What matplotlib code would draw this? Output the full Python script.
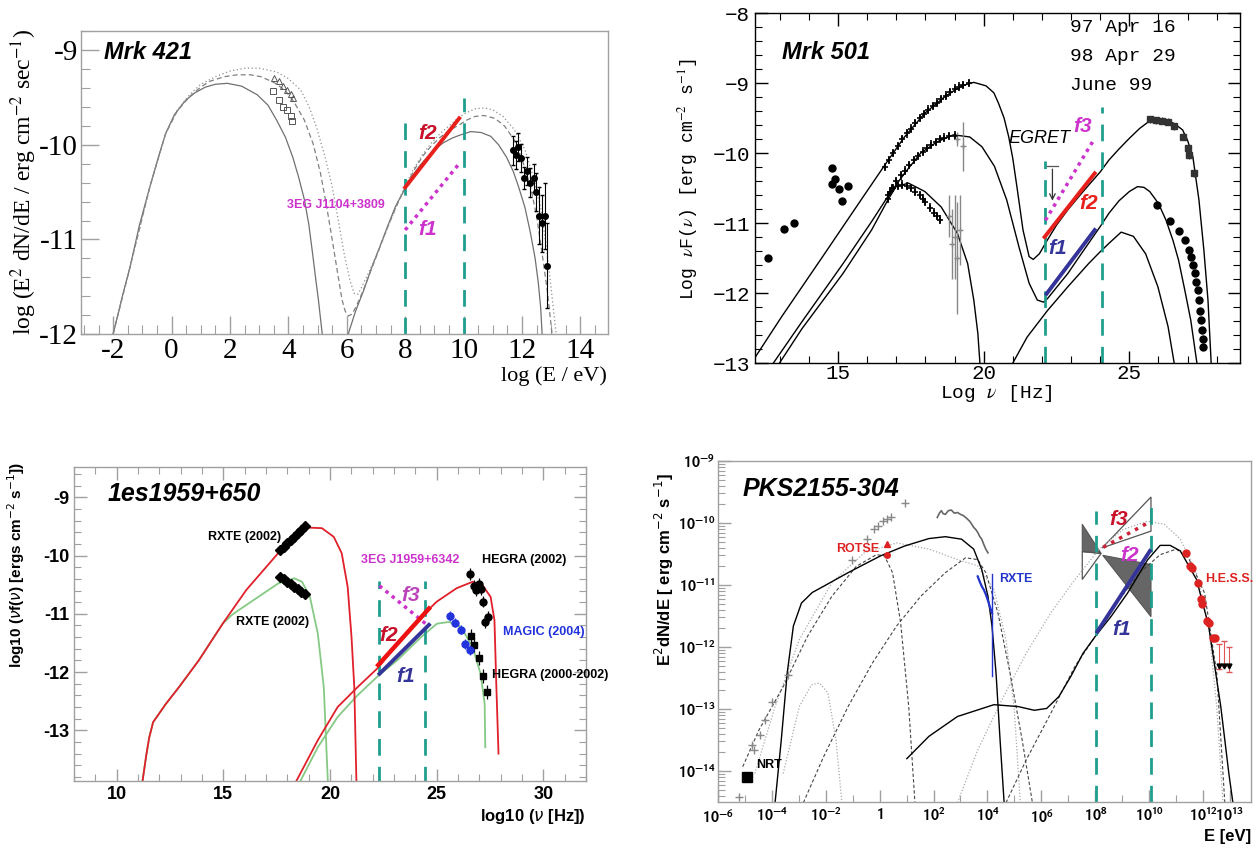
import numpy as np
import matplotlib
matplotlib.use("Agg")
import matplotlib.pyplot as plt
from matplotlib.ticker import MultipleLocator, FixedLocator, FixedFormatter, NullFormatter
from matplotlib.patches import Polygon

plt.rcParams['mathtext.fontset'] = 'stix'
plt.rcParams['axes.unicode_minus'] = False

TEAL = '#1f9e8e'
RED = '#e8201c'
DRED = '#c8102a'
MAG = '#cc33cc'
NAVY = '#34349a'
GREEN = '#85c985'

# ---------------- Mrk 421 (log E [eV], log E^2 dN/dE) ----------------
m421_sync_x = [-2.0, -1.7, -1.42, -1.1, -0.74, -0.45, -0.2, 0.1, 0.48, 0.8, 1.16, 1.5, 1.91, 2.4, 2.93, 3.3,
               3.6, 3.9, 4.15, 4.35, 4.55, 4.7, 4.83, 4.95, 5.03, 5.16]
m421_sync_y = [-12.0, -11.62, -11.29, -10.85, -10.44, -10.13, -9.88, -9.68, -9.53, -9.45, -9.39, -9.36, -9.35, -9.38, -9.47, -9.58,
               -9.74, -9.92, -10.13, -10.34, -10.58, -10.84, -11.15, -11.45, -11.64, -12.0]
m421_ic_x = [6.05, 6.3, 6.59, 6.85, 7.13, 7.4, 7.67, 7.95, 8.22, 8.5, 8.76, 9.05, 9.30, 9.6, 9.85, 10.25, 10.6, 10.93,
             11.2, 11.47, 11.7, 11.88, 12.1, 12.29, 12.45, 12.56, 12.64, 12.69]
m421_ic_y = [-12.0, -11.76, -11.53, -11.30, -11.08, -10.86, -10.65, -10.49, -10.34, -10.22, -10.13, -10.04, -9.98, -9.93, -9.90, -9.86, -9.87, -9.91,
             -10.0, -10.13, -10.28, -10.44, -10.66, -10.93, -11.2, -11.46, -11.72, -12.0]
m421_dash_x = [-2.0, -1.42, -0.74, -0.20, 0.2, 0.62, 1.0, 1.30, 1.8, 2.25, 2.7, 3.06, 3.5, 3.88, 4.2, 4.55, 4.85, 5.10, 5.30, 5.50, 5.70,
               5.84, 5.95, 6.05, 6.18, 6.32, 6.55, 6.80, 7.10, 7.40, 7.70, 8.0, 8.30, 8.60, 8.90, 9.20, 9.50, 9.85, 10.1, 10.39,
               10.7, 11.07, 11.4, 11.74, 12.0, 12.29, 12.5, 12.69, 12.87, 13.03]
m421_dash_y = [-12.0, -11.29, -10.44, -9.88, -9.64, -9.49, -9.39, -9.33, -9.28, -9.26, -9.26, -9.28, -9.34, -9.42, -9.55, -9.74, -9.99, -10.30, -10.63, -11.00, -11.38,
               -11.64, -11.76, -11.81, -11.79, -11.71, -11.55, -11.35, -11.11, -10.87, -10.65, -10.45, -10.27, -10.12, -10.01, -9.92, -9.85, -9.79, -9.74, -9.70,
               -9.69, -9.72, -9.80, -9.95, -10.15, -10.44, -10.75, -11.15, -11.55, -12.0]
m421_dot_x = [-2.0, -1.42, -0.74, -0.20, 0.2, 0.62, 1.0, 1.50, 2.0, 2.52, 3.0, 3.60, 4.0, 4.42, 4.7, 4.96, 5.25, 5.50, 5.70, 5.91, 6.1,
              6.25, 6.38, 6.52, 6.75, 7.0, 7.25, 7.5, 7.75, 8.0, 8.3, 8.6, 8.9, 9.2, 9.5, 9.8, 10.1, 10.39, 10.7, 11.0, 11.35,
              11.74, 12.1, 12.42, 12.65, 12.83, 13.0, 13.17]
m421_dot_y = [-12.0, -11.29, -10.44, -9.88, -9.63, -9.47, -9.36, -9.28, -9.22, -9.19, -9.19, -9.23, -9.30, -9.42, -9.59, -9.81, -10.12, -10.44, -10.78, -11.15, -11.42,
              -11.57, -11.58, -11.50, -11.35, -11.18, -10.99, -10.80, -10.61, -10.43, -10.25, -10.10, -9.98, -9.88, -9.80, -9.72, -9.66, -9.62, -9.61, -9.63, -9.70,
              -9.84, -10.05, -10.37, -10.68, -11.07, -11.52, -12.0]
m421_tri_x = [3.51, 3.67, 3.81, 3.94, 4.08, 4.17]
m421_tri_y = [-9.29, -9.33, -9.38, -9.42, -9.46, -9.51]
m421_sq_x = [3.47, 3.67, 3.81, 3.97, 4.08, 4.12]
m421_sq_y = [-9.43, -9.53, -9.60, -9.63, -9.70, -9.75]
m421_tev_x = [11.68, 11.79, 11.88, 11.98, 12.08, 12.17, 12.29, 12.40, 12.49, 12.58, 12.69, 12.80, 12.87]
m421_tev_y = [-10.06, -10.11, -10.02, -10.14, -10.35, -10.28, -10.40, -10.35, -10.50, -10.75, -10.83, -10.75, -11.28]
m421_tev_err = [0.15, 0.15, 0.15, 0.15, 0.12, 0.15, 0.15, 0.15, 0.2, 0.3, 0.3, 0.35, 0.45]
m421_vlines = [8.0, 10.0]
m421_vtops = [-9.77, -9.51]
m421_f2 = ([8.0, 9.85], [-10.45, -9.72])
m421_f1 = ([8.0, 9.9], [-10.90, -10.18])

# ---------------- Mrk 501 (log nu [Hz]) ----------------
m501_a_x = [12.12, 13.06, 14.47, 15.87, 16.64, 17.28, 17.98, 18.68, 19.24, 19.66, 20.08, 20.35, 20.51, 20.70, 20.86, 21.0, 21.14, 21.35,
            21.56, 21.70, 21.91, 22.19, 22.5, 22.89, 23.25, 23.60, 24.0, 24.30, 24.65, 25.0, 25.35, 25.70, 26.0, 26.26, 26.55, 26.83, 27.0, 27.18, 27.39, 27.56, 27.70, 27.81]
m501_a_y = [-12.94, -12.34, -11.48, -10.62, -10.15, -9.77, -9.43, -9.19, -9.04, -8.99, -9.04, -9.14, -9.29, -9.50, -9.77, -10.08, -10.48, -11.10,
            -11.48, -11.52, -11.44, -11.24, -11.03, -10.81, -10.63, -10.46, -10.27, -10.10, -9.94, -9.79, -9.65, -9.54, -9.51, -9.53, -9.58, -9.67, -9.82, -10.05, -10.67, -11.39, -12.10, -13.0]
m501_b_x = [12.78, 13.76, 15.17, 16.15, 16.71, 17.28, 17.84, 18.40, 18.96, 19.52, 19.94, 20.37, 20.79, 21.21, 21.56,
            21.84, 22.05, 22.19, 22.5, 22.89, 23.25, 23.60, 24.0, 24.30, 24.65, 25.0, 25.28, 25.50, 25.70, 26.0, 26.26, 26.5, 26.69, 26.9, 27.11, 27.32]
m501_b_y = [-13.0, -12.41, -11.58, -10.98, -10.62, -10.29, -10.00, -9.84, -9.74, -9.77, -9.91, -10.19, -10.67, -11.34, -11.86,
            -12.10, -12.13, -12.08, -11.92, -11.72, -11.50, -11.29, -11.05, -10.86, -10.68, -10.55, -10.48, -10.49, -10.55, -10.72, -10.96, -11.25, -11.53, -11.95, -12.39, -13.0]
m501_c_x = [12.99, 13.76, 15.17, 16.15, 16.71, 16.99, 17.42, 17.98, 18.54, 19.10, 19.45, 19.66, 19.80, 19.87]
m501_c_y = [-13.0, -12.51, -11.72, -11.10, -10.67, -10.48, -10.43, -10.55, -10.77, -11.15, -11.58, -12.10, -12.58, -13.0]
m501_cic_x = [21.0, 21.49, 22.19, 22.89, 23.60, 24.0, 24.30, 24.72, 25.14, 25.56, 25.98, 26.33, 26.54]
m501_cic_y = [-13.0, -12.63, -12.25, -11.91, -11.58, -11.41, -11.29, -11.13, -11.19, -11.44, -11.91, -12.48, -13.0]
m501_xa_x = [16.6, 16.75, 16.9, 17.05, 17.2, 17.35, 17.5, 17.65, 17.8, 17.95, 18.1, 18.25, 18.4, 18.55, 18.7, 18.85, 19.0, 19.15, 19.3, 19.5]
m501_xa_y = [-10.2, -10.1, -10.0, -9.9, -9.8, -9.72, -9.65, -9.57, -9.5, -9.44, -9.38, -9.33, -9.28, -9.23, -9.18, -9.13, -9.08, -9.05, -9.03, -9.0]
m501_xb_x = [16.7, 16.85, 17.0, 17.15, 17.3, 17.45, 17.6, 17.75, 17.9, 18.05, 18.2, 18.35, 18.5, 18.65, 18.8, 19.0]
m501_xb_y = [-10.6, -10.5, -10.4, -10.32, -10.25, -10.17, -10.1, -10.04, -9.98, -9.93, -9.88, -9.84, -9.8, -9.78, -9.76, -9.75]
m501_xc_x = [16.7, 16.8, 16.9, 17.05, 17.2, 17.35, 17.5, 17.65, 17.8, 17.9, 18.0, 18.15, 18.3, 18.4, 18.5]
m501_xc_y = [-10.65, -10.56, -10.5, -10.47, -10.45, -10.47, -10.5, -10.55, -10.6, -10.65, -10.7, -10.78, -10.85, -10.9, -10.95]
m501_gray_x = [18.8, 18.9, 19.0, 19.1, 19.2, 19.1, 19.3]
m501_gray_y = [-10.9, -11.3, -11.2, -11.5, -11.1, -9.8, -9.9]
m501_gray_err = [0.3, 0.5, 0.6, 0.8, 0.5, 0.1, 0.35]
m501_opt_x = [12.61, 13.16, 13.50, 14.79, 14.78, 14.90, 15.03, 15.14, 15.35]
m501_opt_y = [-11.50, -11.09, -11.00, -10.21, -10.44, -10.37, -10.51, -10.69, -10.47]
m501_tev_x = [25.96, 26.40, 26.69, 26.90, 27.04, 27.11, 27.18, 27.25, 27.29, 27.35, 27.39, 27.44, 27.46, 27.49, 27.52, 27.53]
m501_tev_y = [-10.74, -10.97, -11.12, -11.24, -11.38, -11.49, -11.60, -11.72, -11.84, -11.96, -12.10, -12.25, -12.39, -12.53, -12.65, -12.77]
m501_hegra_x = [25.70, 25.91, 26.12, 26.33, 26.54, 26.83, 27.01, 27.04, 27.22]
m501_hegra_y = [-9.52, -9.53, -9.54, -9.55, -9.62, -9.77, -9.93, -10.03, -10.29]
m501_vlines = [22.09, 24.06]
m501_vtops = [-10.12, -9.34]
m501_f3 = ([22.12, 23.81], [-10.96, -9.79])
m501_f2 = ([22.09, 23.81], [-11.20, -10.29])
m501_f1 = ([22.16, 23.81], [-12.01, -11.10])
m501_dates = ['97 Apr 16', '98 Apr 29', 'June 99']

# ---------------- 1es1959+650 ----------------
es_sync_x = [11.21, 11.40, 11.53, 11.71, 12.3, 12.92, 13.85, 14.97, 16.08, 17.57, 18.32, 18.97, 19.62, 20.18, 20.55, 20.83, 21.01, 21.14, 21.24]
es_sync_y = [-13.88, -13.40, -13.12, -12.86, -12.55, -12.26, -11.80, -11.17, -10.59, -9.96, -9.65, -9.52, -9.53, -9.68, -9.96, -10.54, -11.40, -12.26, -13.88]
es_gsync_x = [11.21, 11.40, 11.53, 11.71, 12.3, 12.92, 13.85, 14.97, 15.4, 15.71, 16.64, 17.57, 18.32, 18.69, 19.06, 19.43, 19.71, 19.90]
es_gsync_y = [-13.88, -13.40, -13.12, -12.86, -12.55, -12.26, -11.80, -11.17, -11.02, -10.94, -10.71, -10.48, -10.39, -10.45, -10.71, -11.34, -12.26, -13.88]
es_ic_x = [18.41, 19.43, 20.36, 21.29, 22.30, 23.15, 24.27, 25.01, 25.94, 26.69, 27.15, 27.53, 27.71, 27.80, 27.90]
es_ic_y = [-13.88, -13.17, -12.60, -12.26, -11.91, -11.51, -11.05, -10.79, -10.56, -10.45, -10.51, -10.71, -11.11, -12.26, -13.40]
es_gic_x = [18.60, 19.43, 20.36, 21.29, 22.30, 23.15, 24.27, 25.01, 25.57, 26.13, 26.69, 27.06, 27.25, 27.28]
es_gic_y = [-13.88, -13.29, -12.77, -12.40, -12.05, -11.80, -11.40, -11.17, -11.14, -11.22, -11.57, -12.03, -12.54, -13.29]
es_rx1_x = [17.67, 17.83, 17.98, 18.15, 18.32, 18.48, 18.65, 18.82]
es_rx1_y = [-9.91, -9.85, -9.79, -9.73, -9.68, -9.62, -9.56, -9.50]
es_rx2_x = [17.67, 17.83, 17.98, 18.15, 18.32, 18.48, 18.65, 18.82]
es_rx2_y = [-10.36, -10.41, -10.45, -10.49, -10.54, -10.58, -10.62, -10.66]
es_h02_x = [26.58, 26.73, 26.84, 26.97, 27.06, 27.19, 27.28, 27.40]
es_h02_y = [-10.32, -10.52, -10.59, -10.48, -10.58, -10.79, -11.14, -11.05]
es_h00_x = [26.60, 26.74, 26.97, 27.15, 27.34]
es_h00_y = [-11.38, -11.54, -11.76, -12.07, -12.34]
es_magic_x = [25.63, 25.85, 26.13, 26.35, 26.56]
es_magic_y = [-11.04, -11.15, -11.27, -11.52, -11.62]
es_vlines = [22.28, 24.44]
es_vtop = -10.44
es_f3 = ([22.32, 24.55], [-10.52, -11.19])
es_f2 = ([22.26, 24.64], [-11.88, -10.91])
es_f1 = ([22.32, 24.64], [-12.03, -11.19])

# ---------------- PKS2155-304 (log10 E [eV], log10 E^2dN/dE) ----------------
pks_sync_lx = [-3.88, -3.65, -3.43, -3.20, -2.90, -2.5, -2.08, -1.17, 0.03, 0.93, 1.83, 2.44, 3.04, 3.49, 3.79, 4.02, 4.17, 4.32, 4.47, 4.62]
pks_sync_ly = [-14.51, -13.50, -12.42, -11.66, -11.29, -11.12, -11.02, -10.80, -10.53, -10.37, -10.25, -10.22, -10.26, -10.42, -10.75, -11.18, -11.66, -12.42, -13.50, -14.51]
pks_ic_lx = [1.01, 1.83, 2.89, 4.24, 5.14, 5.74, 6.20, 6.65, 7.10, 7.55, 8.0, 8.6, 9.2, 9.95, 10.41, 10.78, 11.16, 11.76, 12.21, 12.66, 12.96, 13.11]
pks_ic_ly = [-13.80, -13.44, -13.12, -12.93, -12.96, -13.02, -12.99, -12.80, -12.47, -12.10, -11.83, -11.50, -11.13, -10.59, -10.36, -10.36, -10.45, -10.91, -11.66, -12.96, -14.04, -14.51]
pks_d1_lx = [-5.08, -4.48, -3.58, -2.68, -1.77, -0.87, -0.12, 0.18, 0.48, 0.78, 1.08, 1.31]
pks_d1_ly = [-13.93, -13.34, -12.64, -11.83, -11.18, -10.70, -10.51, -10.53, -10.80, -11.61, -12.96, -14.51]
pks_d2_lx = [-2.83, -2.08, -1.17, -0.27, 0.63, 1.53, 2.44, 3.19, 3.64, 3.94, 4.39, 4.84, 5.29, 5.67]
pks_d2_ly = [-14.51, -13.77, -12.96, -12.26, -11.66, -11.18, -10.80, -10.56, -10.59, -10.80, -11.45, -12.42, -13.50, -14.51]
pks_d3_lx = [4.69, 5.44, 6.35, 7.25, 8.0, 8.90, 9.65, 10.41, 11.01, 11.46, 12.06, 12.51, 12.81]
pks_d3_ly = [-14.51, -13.82, -13.07, -12.31, -11.83, -11.23, -10.80, -10.51, -10.42, -10.56, -11.13, -12.42, -14.51]
pks_o1_lx = [-3.58, -2.98, -2.53, -2.23, -1.92, -1.62, -1.40]
pks_o1_ly = [-14.04, -12.96, -12.61, -12.58, -12.74, -13.50, -14.51]
pks_o2_lx = [-4.63, -3.88, -2.98, -1.77, -0.57, 0.63, 1.83, 2.89, 3.64, 4.24, 4.69, 4.99, 5.22]
pks_o2_ly = [-14.04, -12.96, -11.88, -10.96, -10.48, -10.32, -10.42, -10.59, -10.69, -11.07, -11.88, -12.96, -14.51]
pks_o3_lx = [2.89, 3.64, 4.54, 5.44, 6.35, 7.25, 8.15, 9.05, 9.95, 10.56, 11.16, 11.76, 12.21, 12.51, 12.74]
pks_o3_ly = [-14.51, -13.66, -12.85, -12.10, -11.45, -10.91, -10.42, -10.10, -9.97, -10.02, -10.26, -10.80, -11.66, -12.96, -14.51]
pks_opt_lx = [-5.23, -4.75, -4.66, -4.45, -4.26, -4.0, -3.40, -1.02, -0.45, -0.20, -0.05, 0.11, 0.26, 0.41, 0.93]
pks_opt_ly = [-14.42, -13.58, -13.66, -13.42, -13.17, -12.88, -12.45, -10.59, -10.25, -10.09, -10.05, -9.97, -9.93, -9.90, -9.67]
pks_xs_lx = [2.14, 2.22, 2.29, 2.36, 2.44, 2.55, 2.66, 2.77, 2.89, 3.0, 3.11, 3.22, 3.34, 3.42, 3.49, 3.56, 3.64, 3.72, 3.79, 3.87, 3.94, 4.02]
pks_xs_ly = [-9.91, -9.84, -9.80, -9.85, -9.86, -9.80, -9.79, -9.84, -9.83, -9.86, -9.88, -9.92, -9.97, -10.02, -10.07, -10.10, -10.15, -10.22, -10.26, -10.35, -10.42, -10.48]
pks_rxte_lx = [3.64, 3.72, 3.79, 3.87, 3.94, 4.02, 4.09, 4.17]
pks_rxte_ly = [-10.86, -10.95, -11.02, -11.08, -11.15, -11.25, -11.35, -11.45]
pks_hess_lx = [11.38, 11.53, 11.61, 11.83, 11.91, 11.98, 12.14, 12.21, 12.36, 12.44]
pks_hess_ly = [-10.48, -10.69, -10.72, -10.96, -11.23, -11.31, -11.58, -11.61, -11.85, -11.85]
pks_ul_lx = [12.59, 12.78, 12.96]
pks_ul_ly = [-12.31, -12.31, -12.31]
pks_ul_bar = [-12.15, -12.1, -12.2]
pks_vlines = [8.04, 10.06]
pks_vtops = [-9.81, -9.58]
pks_f1 = ([8.08, 10.03], [-11.75, -10.45])
pks_f3 = ([8.30, 10.07], [-10.39, -9.97])
pks_bow_dark = [[(7.52, -10.02), (7.52, -10.46), (8.22, -10.49)], [(8.28, -10.52), (10.07, -10.67), (10.07, -11.51)]]
pks_bow_open = [[(7.52, -10.46), (7.52, -10.91), (8.22, -10.49)], [(8.26, -10.40), (10.07, -9.58), (10.07, -10.13)]]
pks_xticks = [-6, -4, -2, 0, 2, 4, 6, 8, 10, 12, 13]
pks_xlabels = [r'$\mathbf{10^{-6}}$', r'$\mathbf{10^{-4}}$', r'$\mathbf{10^{-2}}$', r'$\mathbf{1}$', r'$\mathbf{10^{2}}$',
               r'$\mathbf{10^{4}}$', r'$\mathbf{10^{6}}$', r'$\mathbf{10^{8}}$', r'$\mathbf{10^{10}}$',
               r'$\mathbf{10^{12}}$', r'$\mathbf{10^{13}}$']
pks_yticks = [-14, -13, -12, -11, -10, -9]
pks_ylabels = [r'$\mathbf{10^{-14}}$', r'$\mathbf{10^{-13}}$', r'$\mathbf{10^{-12}}$', r'$\mathbf{10^{-11}}$',
               r'$\mathbf{10^{-10}}$', r'$\mathbf{10^{-9}}$']


fig = plt.figure(figsize=(12.58, 8.48), dpi=100)


def style(ax, color, allsides, major, minor, width=1.0):
    for s in ax.spines.values():
        s.set_color(color)
        s.set_linewidth(width)
    ax.tick_params(which='both', direction='in', color=color, labelcolor='black',
                   top=allsides, right=allsides)
    ax.tick_params(which='major', length=major, width=width)
    ax.tick_params(which='minor', length=minor, width=width * 0.8)


def ftext(ax, x, y, s, color, size=15):
    ax.text(x, y, s, color=color, fontsize=size, fontweight='bold', style='italic',
            ha='center', va='center', family='Liberation Sans')


# ===== panel 1 =====
ax1 = fig.add_axes([0.0644, 0.6061, 0.419, 0.357])
ax1.plot(m421_sync_x, m421_sync_y, color='#707070', lw=0.9)
ax1.plot(m421_ic_x, m421_ic_y, color='#707070', lw=0.9)
ax1.plot(m421_dash_x, m421_dash_y, color='#808080', lw=0.9, ls=(0, (4, 2.5)))
ax1.plot(m421_dot_x, m421_dot_y, color='#909090', lw=0.9, ls=(0, (1, 2)))
ax1.plot(m421_tri_x, m421_tri_y, '^', mfc='none', mec='#555555', ms=5, mew=0.7)
ax1.plot(m421_sq_x, m421_sq_y, 's', mfc='none', mec='#555555', ms=5, mew=0.7)
ax1.errorbar(m421_tev_x, m421_tev_y, yerr=m421_tev_err, fmt='o', color='black', ms=4, elinewidth=0.8, capsize=1.5)
for xv, yt in zip(m421_vlines, m421_vtops):
    ax1.plot([xv, xv], [-12, yt], color=TEAL, lw=2, ls=(0, (6, 4)))
ax1.plot(*m421_f2, color=RED, lw=2.8)
ax1.plot(*m421_f1, color=MAG, lw=2.5, ls=(0, (1, 1.3)))
ftext(ax1, 8.76, -9.88, 'f2', DRED)
ftext(ax1, 8.76, -10.90, 'f1', MAG)
ax1.text(5.64, -10.64, '3EG J1104+3809', color=MAG, fontsize=9, fontweight='bold', ha='center', va='center', family='Liberation Sans')
ax1.text(-2.3, -9.02, 'Mrk 421', fontsize=17, fontweight='bold', style='italic', ha='left', va='center', family='Liberation Sans')
ax1.set_xlim(-3.1, 14.95)
ax1.set_ylim(-12, -8.8)
ax1.xaxis.set_major_locator(MultipleLocator(2))
ax1.xaxis.set_minor_locator(MultipleLocator(0.5))
ax1.yaxis.set_major_locator(MultipleLocator(1))
ax1.yaxis.set_minor_locator(MultipleLocator(0.2))
style(ax1, '#a0a0a0', False, 13, 6.5)
ax1.tick_params(axis='x', pad=3)
ax1.tick_params(axis='y', pad=2)
for lab in ax1.get_xticklabels() + ax1.get_yticklabels():
    lab.set_family('Liberation Serif')
    lab.set_fontsize(21)
fig.text(0.019, 0.785, r'log (E$^2$ dN/dE / erg cm$^{-2}$ sec$^{-1}$)', rotation=90, ha='center', va='center',
         fontsize=17, family='Liberation Serif')
fig.text(607 / 1258, 1 - 376 / 848, 'log (E / eV)', ha='right', va='center', fontsize=16, family='Liberation Serif')

# ===== panel 2 =====
ax2 = fig.add_axes([0.6002, 0.5719, 0.3855, 0.4127])
for xs, ys in [(m501_a_x, m501_a_y), (m501_b_x, m501_b_y), (m501_c_x, m501_c_y), (m501_cic_x, m501_cic_y)]:
    ax2.plot(xs, ys, color='black', lw=1.0)
for xs, ys in [(m501_xa_x, m501_xa_y), (m501_xb_x, m501_xb_y), (m501_xc_x, m501_xc_y)]:
    ax2.errorbar(xs, ys, yerr=0.06, fmt='+', color='black', ms=4, elinewidth=1.2, mew=1.2)
ax2.errorbar(m501_gray_x, m501_gray_y, yerr=m501_gray_err, fmt='+', color='#888888', ms=4, elinewidth=1.0)
ax2.plot(m501_opt_x, m501_opt_y, 'o', color='black', ms=5)
ax2.plot(m501_tev_x, m501_tev_y, 'o', color='black', ms=5)
ax2.errorbar(m501_hegra_x, m501_hegra_y, yerr=0.05, fmt='s', color='#333333', ms=4, elinewidth=0.8)
for xv, yt in zip(m501_vlines, m501_vtops):
    ax2.plot([xv, xv], [-13, yt], color=TEAL, lw=2, ls=(0, (6, 4)))
ax2.plot([22.19, 22.54], [-10.19, -10.19], color='#555555', lw=0.9)
ax2.annotate('', xy=(22.36, -10.72), xytext=(22.36, -10.19),
             arrowprops=dict(arrowstyle='->', color='#333333', lw=0.9))
ax2.plot(*m501_f3, color=MAG, lw=2.5, ls=(0, (1, 1.3)))
ax2.plot(*m501_f2, color=RED, lw=2.8)
ax2.plot(*m501_f1, color=NAVY, lw=2.8)
ax2.text(21.91, -9.79, 'EGRET', fontsize=13, style='italic', ha='center', va='center', family='Liberation Sans')
ftext(ax2, 23.38, -9.62, 'f3', MAG)
ftext(ax2, 23.60, -10.72, 'f2', RED)
ftext(ax2, 22.54, -11.36, 'f1', NAVY)
ax2.text(13.06, -8.57, 'Mrk 501', fontsize=17, fontweight='bold', style='italic', ha='left', va='center', family='Liberation Sans')
for i, d in enumerate(m501_dates):
    ax2.text(22.96, -8.21 - 0.41 * i, d, fontsize=14, ha='left', va='center', family='Liberation Mono')
ax2.set_xlim(12.15, 28.8)
ax2.set_ylim(-13, -8)
ax2.xaxis.set_major_locator(MultipleLocator(5))
ax2.xaxis.set_minor_locator(MultipleLocator(1))
ax2.yaxis.set_major_locator(MultipleLocator(1))
ax2.yaxis.set_minor_locator(MultipleLocator(0.2))
ax2.yaxis.set_major_formatter(matplotlib.ticker.FuncFormatter(lambda v, p: '\u2212%d' % abs(round(v))))
style(ax2, 'black', True, 9, 5)
ax2.tick_params(axis='x', pad=1)
for lab in ax2.get_xticklabels() + ax2.get_yticklabels():
    lab.set_family('Liberation Mono')
    lab.set_fontsize(15)
fig.text(688 / 1258, 0.789, r'Log $\nu$F($\nu$) [erg cm$^{-2}$ s$^{-1}$]', rotation=90, ha='center', va='center',
         fontsize=13, family='Liberation Mono')
fig.text(996 / 1258, 1 - 394 / 848, r'Log $\nu$ [Hz]', ha='center', va='center', fontsize=14, family='Liberation Mono')

# ===== panel 3 =====
ax3 = fig.add_axes([0.0588, 0.0790, 0.407, 0.3703])
ax3.plot(es_gsync_x, es_gsync_y, color=GREEN, lw=1.3)
ax3.plot(es_gic_x, es_gic_y, color=GREEN, lw=1.3)
ax3.plot(es_sync_x, es_sync_y, color='#e0202a', lw=1.3)
ax3.plot(es_ic_x, es_ic_y, color='#e0202a', lw=1.3)
ax3.plot(es_rx1_x, es_rx1_y, 'D', color='black', ms=5)
ax3.plot(es_rx2_x, es_rx2_y, 'D', color='black', ms=5)
ax3.errorbar(es_h02_x, es_h02_y, yerr=0.1, fmt='o', color='black', ms=5, elinewidth=0.9)
ax3.errorbar(es_h00_x, es_h00_y, yerr=0.12, fmt='s', color='black', ms=5, elinewidth=0.9)
ax3.errorbar(es_magic_x, es_magic_y, yerr=0.08, fmt='o', color='#2233dd', ms=5, elinewidth=0.9)
for xv in es_vlines:
    ax3.plot([xv, xv], [-13.9, es_vtop], color=TEAL, lw=2, ls=(0, (6, 4)))
ax3.plot(*es_f3, color=MAG, lw=2.5, ls=(0, (1, 1.3)))
ax3.plot(*es_f2, color='#ee1111', lw=3.2)
ax3.plot(*es_f1, color=NAVY, lw=2.8)
ftext(ax3, 23.80, -10.68, 'f3', '#bb44bb')
ftext(ax3, 22.74, -11.37, 'f2', DRED)
ftext(ax3, 23.53, -12.08, 'f1', NAVY)
ann = dict(fontsize=9, fontweight='bold', ha='center', va='center', family='Liberation Sans')
ax3.text(15.99, -9.68, 'RXTE (2002)', **ann)
ax3.text(17.29, -11.14, 'RXTE (2002)', **ann)
ax3.text(23.75, -10.08, '3EG J1959+6342', color=MAG, **ann)
ax3.text(29.11, -10.08, 'HEGRA (2002)', **ann)
ax3.text(30.04, -11.32, 'MAGIC (2004)', color='#2233dd', **ann)
ax3.text(30.32, -12.05, 'HEGRA (2000-2002)', **ann)
ax3.text(9.57, -8.94, '1es1959+650', fontsize=18, fontweight='bold', style='italic', ha='left', va='center', family='Liberation Sans')
ax3.set_xlim(8, 32)
ax3.set_ylim(-13.87, -8.48)
ax3.xaxis.set_major_locator(MultipleLocator(5))
ax3.xaxis.set_minor_locator(MultipleLocator(1))
ax3.yaxis.set_major_locator(MultipleLocator(1))
ax3.yaxis.set_minor_locator(MultipleLocator(0.2))
style(ax3, '#a0a0a0', True, 9, 5)
for lab in ax3.get_xticklabels() + ax3.get_yticklabels():
    lab.set_family('Liberation Sans')
    lab.set_fontweight('bold')
    lab.set_fontsize(13)
fig.text(16 / 1258, 0.334, r'log10 ($\nu$f($\nu$) [ergs cm$^{-2}$ s$^{-1}$])', rotation=90, ha='center', va='center',
         fontsize=11, fontweight='bold', family='Liberation Sans', math_fontfamily='dejavusans')
fig.text(586 / 1258, 1 - 817 / 848, r'log10 ($\nu$ [Hz])', ha='right', va='center', fontsize=12,
         fontweight='bold', family='Liberation Sans', math_fontfamily='dejavusans')

# ===== panel 4 =====
ax4 = fig.add_axes([0.5707, 0.0542, 0.4237, 0.4021])


def p(lx, ly):
    return 10.0 ** np.array(lx), 10.0 ** np.array(ly)


for lx, ly in [(pks_o1_lx, pks_o1_ly), (pks_o2_lx, pks_o2_ly), (pks_o3_lx, pks_o3_ly)]:
    ax4.plot(*p(lx, ly), color='#aaaaaa', lw=0.9, ls=(0, (1, 1.5)))
for lx, ly in [(pks_d1_lx, pks_d1_ly), (pks_d2_lx, pks_d2_ly), (pks_d3_lx, pks_d3_ly)]:
    ax4.plot(*p(lx, ly), color='#444444', lw=0.8, ls=(0, (3, 2)))
ax4.plot(*p(pks_sync_lx, pks_sync_ly), color='black', lw=1.0)
ax4.plot(*p(pks_ic_lx, pks_ic_ly), color='black', lw=1.0)
ax4.plot(*p(pks_opt_lx, pks_opt_ly), '+', color='#888888', ms=6)
ax4.plot(*p(pks_xs_lx, pks_xs_ly), color='#666666', lw=1.2)
ax4.plot(*p(pks_rxte_lx, pks_rxte_ly), color='#2233cc', lw=1.6)
ax4.plot([10 ** 4.17, 10 ** 4.17], [10 ** -10.82, 10 ** -12.47], color='#2233cc', lw=1.0)
ax4.plot([10 ** 0.26], [10 ** -10.34], '^', color='#dd2222', ms=4)
ax4.plot([10 ** 0.26], [10 ** -10.52], 'o', color='#dd2222', ms=4)
ax4.plot([10 ** -4.93], [10 ** -14.09], 's', color='black', ms=7)
ax4.plot(*p(pks_hess_lx, pks_hess_ly), 'o', color='#dd2222', ms=5)
ul_x, ul_y = p(pks_ul_lx, pks_ul_bar)
ax4.errorbar(ul_x, ul_y, yerr=[ul_y * 0.37, ul_y * 0.58], fmt='none', ecolor='#dd5555', elinewidth=0.8, capsize=2)
ax4.plot(*p(pks_ul_lx, pks_ul_ly), 'v', color='black', ms=3.5)
for tri in pks_bow_dark:
    ax4.add_patch(Polygon([(10 ** a, 10 ** b) for a, b in tri], closed=True, facecolor='#666666', edgecolor='#555555', lw=0.8))
for tri in pks_bow_open:
    ax4.add_patch(Polygon([(10 ** a, 10 ** b) for a, b in tri], closed=True, facecolor='none', edgecolor='#555555', lw=0.9))
for xv, yt in zip(pks_vlines, pks_vtops):
    ax4.plot([10 ** xv, 10 ** xv], [10 ** -14.5, 10 ** yt], color=TEAL, lw=2, ls=(0, (6, 4)))
ax4.plot(*p(*pks_f3), color='#cc2233', lw=2.5, ls=(0, (1, 1.6)))
ax4.plot(*p(*pks_f1), color=NAVY, lw=2.8)
ftext(ax4, 10 ** 8.85, 10 ** -9.94, 'f3', DRED)
ftext(ax4, 10 ** 9.28, 10 ** -10.53, 'f2', MAG)
ftext(ax4, 10 ** 8.98, 10 ** -11.72, 'f1', NAVY)
ax4.text(10 ** 0.0, 10 ** -10.42, 'ROTSE', color='#dd2222', fontsize=9, fontweight='bold', ha='right', va='center', family='Liberation Sans')
ax4.text(10 ** 5.07, 10 ** -10.91, 'RXTE', color='#2233cc', fontsize=9, fontweight='bold', ha='center', va='center', family='Liberation Sans')
ax4.text(10 ** 12.96, 10 ** -10.91, 'H.E.S.S.', color='#dd2222', fontsize=9, fontweight='bold', ha='center', va='center', family='Liberation Sans')
ax4.text(10 ** -4.6, 10 ** -13.9, 'NRT', fontsize=9, fontweight='bold', ha='left', va='center', family='Liberation Sans')
ax4.text(10 ** -5.08, 10 ** -9.45, 'PKS2155-304', fontsize=18, fontweight='bold', style='italic', ha='left', va='center', family='Liberation Sans')
ax4.set_xscale('log')
ax4.set_yscale('log')
ax4.set_xlim(1e-6, 10 ** 13.78)
ax4.set_ylim(10 ** -14.5, 1e-9)
ax4.xaxis.set_major_locator(FixedLocator([10.0 ** v for v in pks_xticks]))
ax4.xaxis.set_major_formatter(FixedFormatter(pks_xlabels))
ax4.xaxis.set_minor_locator(FixedLocator([10.0 ** v for v in range(-6, 14) if v not in pks_xticks]))
ax4.xaxis.set_minor_formatter(NullFormatter())
ax4.yaxis.set_major_locator(FixedLocator([10.0 ** v for v in pks_yticks]))
ax4.yaxis.set_major_formatter(FixedFormatter(pks_ylabels))
ax4.yaxis.set_minor_locator(matplotlib.ticker.LogLocator(base=10, subs=np.arange(2, 10), numticks=20))
ax4.yaxis.set_minor_formatter(NullFormatter())
style(ax4, '#a0a0a0', False, 9, 5)
ax4.tick_params(axis='y', pad=2)
for lab in ax4.get_xticklabels() + ax4.get_yticklabels():
    lab.set_math_fontfamily('stixsans')
    lab.set_fontsize(11.5)
fig.text(664 / 1258, 0.328, r'E$^2$dN/dE [ erg cm$^{-2}$ s$^{-1}$]', rotation=90, ha='center', va='center',
         fontsize=12, fontweight='bold', family='Liberation Sans', math_fontfamily='dejavusans')
fig.text(1251 / 1258, 1 - 837 / 848, 'E [eV]', ha='right', va='center', fontsize=12, fontweight='bold', family='Liberation Sans')

fig.savefig('out.png', dpi=100)
